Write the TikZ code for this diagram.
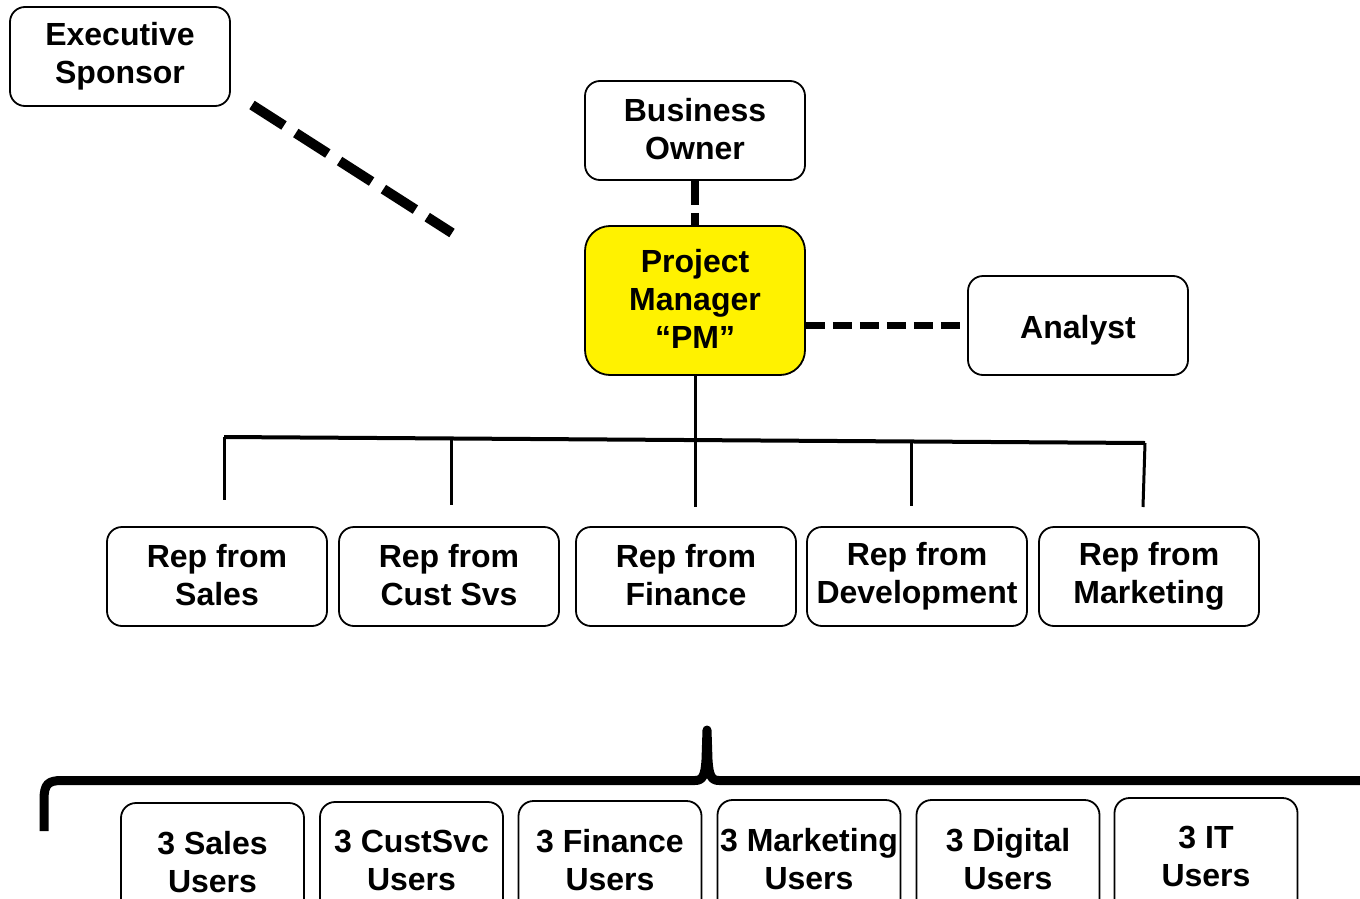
\documentclass[tikz,border=0pt]{standalone}
\usepackage{fontspec}
\setmainfont{Liberation Sans}
\newcommand\boxstrut{\rule[-4pt]{0pt}{38pt}}
\newcommand\onestrut{\rule[-7.5pt]{0pt}{38pt}}
\begin{document}
\begin{tikzpicture}[x=1pt,y=-1pt,
  box/.style={draw=black, line width=1.8pt, rounded corners=15pt, fill=white,
    inner sep=0pt, minimum width=220pt, minimum height=99pt, align=center,
    font=\fontsize{32}{38}\selectfont\bfseries,
    execute at begin node=\boxstrut, execute at end node=\boxstrut},
  onebox/.style={box, execute at begin node=\onestrut, execute at end node=\onestrut},
  pmbox/.style={box, fill=yellow, rounded corners=25pt, minimum height=149pt},
  userbox/.style={box, minimum width=183pt, minimum height=121pt},
  bigdash/.style={line width=10pt, dash pattern=on 38pt off 14pt},
  middash/.style={line width=7.5pt, dash pattern=on 24pt off 8pt},
  sidedash/.style={line width=7pt, dash pattern=on 19.5pt off 7.5pt},
  tree/.style={line width=3pt},
  bracestyle/.style={line width=9pt, line join=round, line cap=butt}]
\useasboundingbox (0,0) rectangle (1360,899);
\clip (0,0) rectangle (1360,899);

% top boxes
\node[box] (es) at (120,56.5) {Executive\\Sponsor};
\node[box] (bo) at (695,130.5) {Business\\Owner};
\node[pmbox] (pm) at (695,300.5) {Project\\Manager\\“PM”};
\node[onebox] (an) at (1078,325.5) {Analyst};

% reps
\node[box] (r1) at (217,576.5) {Rep from\\Sales};
\node[box] (r2) at (449,576.5) {Rep from\\Cust Svs};
\node[box] (r3) at (686,576.5) {Rep from\\Finance};
\node[box] (r4) at (917,576.5) {Rep from\\Development};
\node[box] (r5) at (1149,576.5) {Rep from\\Marketing};

% users
\node[userbox] (u1) at (212.5,863.5) {3 Sales\\Users};
\node[userbox] (u2) at (411.5,862.5) {3 CustSvc\\Users};
\node[userbox] (u3) at (610,861.5) {3 Finance\\Users};
\node[userbox] (u4) at (809,860.5) {3 Marketing\\Users};
\node[userbox] (u5) at (1008,860.5) {3 Digital\\Users};
\node[userbox] (u6) at (1206,858.5) {3 IT\\Users};

% executive sponsor dashed line
\coordinate (es1) at (252,105);
\coordinate (es2) at (452,233);
\draw[bigdash] (es1) -- (es2);

% business owner to PM
\draw[middash] (bo.south) -- (pm.north);

% PM to analyst
\draw[sidedash] (an.west -| pm.east) -- (an.west);

% tree
\coordinate (bl) at (224,437);
\coordinate (br) at (1145,443);
\coordinate (d1) at (224,500);
\coordinate (d2) at (451,505);
\coordinate (d3) at (695,507);
\coordinate (d4) at (911,506);
\coordinate (d5) at (1143,507);
\draw[tree] (pm.south) -- (d3);
\draw[line width=4pt] (bl) -- (br);
\draw[tree] (bl) -- (d1);
\draw[tree] (451,438.2) -- (d2);
\draw[tree] (911,441.8) -- (d4);
\draw[tree] (br) -- (d5);

% brace
\coordinate (bs) at (44,831);
\coordinate (bt) at (707,730);
\coordinate (be) at (1365,780.5);
\draw[bracestyle] (bs) -- (44,800) .. controls (44,784) and (48,780.5) .. (62,780.5)
  -- (695,780.5) .. controls (703,780.5) and (705,775) .. (706,760)
  -- (bt) -- (708,760) .. controls (709,775) and (711,780.5) .. (719,780.5) -- (be);
\end{tikzpicture}
\end{document}
